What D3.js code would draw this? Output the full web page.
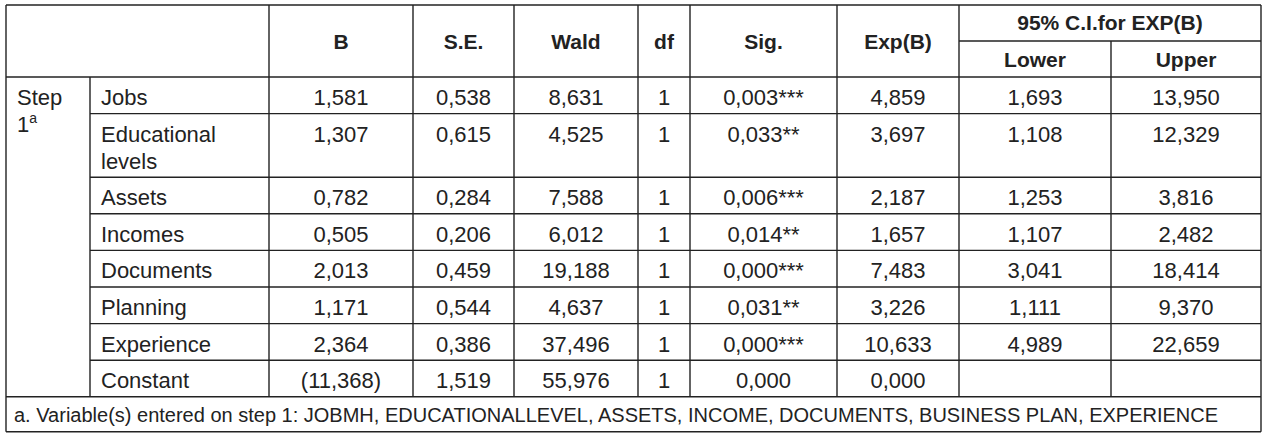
<!DOCTYPE html>
<html>
<head>
<meta charset="utf-8">
<script src="https://cdn.jsdelivr.net/npm/d3@7"></script>
<style>
  body { margin: 0; background: #fff; }
  text { font-family: "Liberation Sans", Arial, sans-serif; fill: #222; }
</style>
</head>
<body>
<div id="view"></div>
<script>
var width = 1270, height = 440;

// データ
var labels = [["Jobs"], ["Educational", "levels"], ["Assets"], ["Incomes"], ["Documents"], ["Planning"], ["Experience"], ["Constant"]];
var bVals    = ["1,581", "1,307", "0,782", "0,505", "2,013", "1,171", "2,364", "(11,368)"];
var seVals   = ["0,538", "0,615", "0,284", "0,206", "0,459", "0,544", "0,386", "1,519"];
var waldVals = ["8,631", "4,525", "7,588", "6,012", "19,188", "4,637", "37,496", "55,976"];
var dfVals   = ["1", "1", "1", "1", "1", "1", "1", "1"];
var sigVals  = ["0,003", "0,033", "0,006", "0,014", "0,000", "0,031", "0,000", "0,000"];
var sigStars = ["***", "**", "***", "**", "***", "**", "***", ""];
var expVals  = ["4,859", "3,697", "2,187", "1,657", "7,483", "3,226", "10,633", "0,000"];
var lowVals  = ["1,693", "1,108", "1,253", "1,107", "3,041", "1,111", "4,989", ""];
var upVals   = ["13,950", "12,329", "3,816", "2,482", "18,414", "9,370", "22,659", ""];
var headers  = ["B", "S.E.", "Wald", "df", "Sig.", "Exp(B)"];
var footnote = "a. Variable(s) entered on step 1: JOBMH, EDUCATIONALLEVEL, ASSETS, INCOME, DOCUMENTS, BUSINESS PLAN, EXPERIENCE";

// 列の区切り
var colKeys  = ["step", "label", "B", "SE", "Wald", "df", "Sig", "Exp", "Lower", "Upper"];
var colEdges = [6, 90, 269, 413, 514, 638, 690, 837, 959, 1111, 1261];

var xLeft  = d3.scaleOrdinal().domain(colKeys).range(colEdges.slice(0, -1));
var xRight = d3.scaleOrdinal().domain(colKeys).range(colEdges.slice(1));
function xMid(k) { return (xLeft(k) + xRight(k)) / 2; }

// 行の位置
var headTop = 5, headMid = 41, headBot = 77;
var rowH = 36.6, lineH = 27;
var rowTops = [];
var acc = headBot;
labels.forEach(function(l) { rowTops.push(acc); acc += rowH + (l.length - 1) * lineH; });
var tableBot = acc;
var footBot = tableBot + 35;

var svg = d3.select("#view").append("svg")
  .attr("width", width)
  .attr("height", height);

svg.append("rect").attr("width", width).attr("height", height).attr("fill", "#fff");

var lines = svg.append("g").attr("stroke", "#222").attr("stroke-width", 1.4);
function hl(x1, x2, y) { lines.append("line").attr("x1", x1).attr("x2", x2).attr("y1", y).attr("y2", y); }
function vl(x, y1, y2) { lines.append("line").attr("x1", x).attr("x2", x).attr("y1", y1).attr("y2", y2); }

var L = colEdges[0], R = colEdges[colEdges.length - 1];
hl(L, R, headTop);
hl(L, R, headBot);
hl(xLeft("Lower"), R, headMid);
rowTops.slice(1).forEach(function(y) { hl(xLeft("label"), R, y); });
hl(L, R, tableBot);
hl(L, R, footBot);
vl(L, headTop, footBot);
vl(R, headTop, footBot);
vl(xLeft("label"), headBot, tableBot);
["B", "SE", "Wald", "df", "Sig", "Exp", "Lower"].forEach(function(k) { vl(xLeft(k), headTop, tableBot); });
vl(xLeft("Upper"), headMid, tableBot);

// ヘッダー
var hdrKeys = ["B", "SE", "Wald", "df", "Sig", "Exp"];
svg.selectAll(".hdr").data(headers).enter().append("text")
  .attr("class", "hdr")
  .attr("x", function(d, i) { return xMid(hdrKeys[i]); })
  .attr("y", (headTop + headBot) / 2 + 8)
  .attr("text-anchor", "middle")
  .attr("font-weight", "bold")
  .attr("font-size", 21)
  .text(function(d) { return d; });

svg.append("text")
  .attr("x", (xLeft("Lower") + R) / 2).attr("y", (headTop + headMid) / 2 + 7)
  .attr("text-anchor", "middle").attr("font-weight", "bold").attr("font-size", 21)
  .text("95% C.I.for EXP(B)");
["Lower", "Upper"].forEach(function(k) {
  svg.append("text")
    .attr("x", xMid(k)).attr("y", (headMid + headBot) / 2 + 8)
    .attr("text-anchor", "middle").attr("font-weight", "bold").attr("font-size", 21)
    .text(k);
});

// Step 1a
svg.append("text").attr("x", 17).attr("y", rowTops[0] + 28).attr("font-size", 22).text("Step");
var s1 = svg.append("text").attr("x", 17).attr("y", rowTops[0] + 55).attr("font-size", 22);
s1.append("tspan").text("1");
s1.append("tspan").attr("font-size", 14).attr("dy", -9).text("a");

// ラベル
var rows = svg.selectAll(".row").data(labels).enter().append("g")
  .attr("class", "row")
  .attr("transform", function(d, i) { return "translate(0," + rowTops[i] + ")"; });

rows.append("text")
  .attr("font-size", 22)
  .selectAll("tspan").data(function(d) { return d; }).enter().append("tspan")
  .attr("x", xLeft("label") + 11)
  .attr("y", function(d, j) { return 28 + j * lineH; })
  .text(function(d) { return d; });

var cols = [["B", bVals], ["SE", seVals], ["Wald", waldVals], ["df", dfVals], ["Exp", expVals], ["Lower", lowVals], ["Upper", upVals]];
cols.forEach(function(c) {
  rows.append("text")
    .attr("x", xMid(c[0]))
    .attr("y", 28)
    .attr("text-anchor", "middle")
    .attr("font-size", 22)
    .text(function(d, i) { return c[1][i]; });
});

// Sig. と星印
rows.append("text")
  .attr("x", xMid("Sig"))
  .attr("y", 28)
  .attr("text-anchor", "middle")
  .attr("font-size", 22)
  .text(function(d, i) { return sigVals[i] + sigStars[i]; });

// 注記
svg.append("text")
  .attr("x", L + 8).attr("y", tableBot + 25)
  .attr("font-size", 20)
  .text(footnote);
</script>
</body>
</html>
